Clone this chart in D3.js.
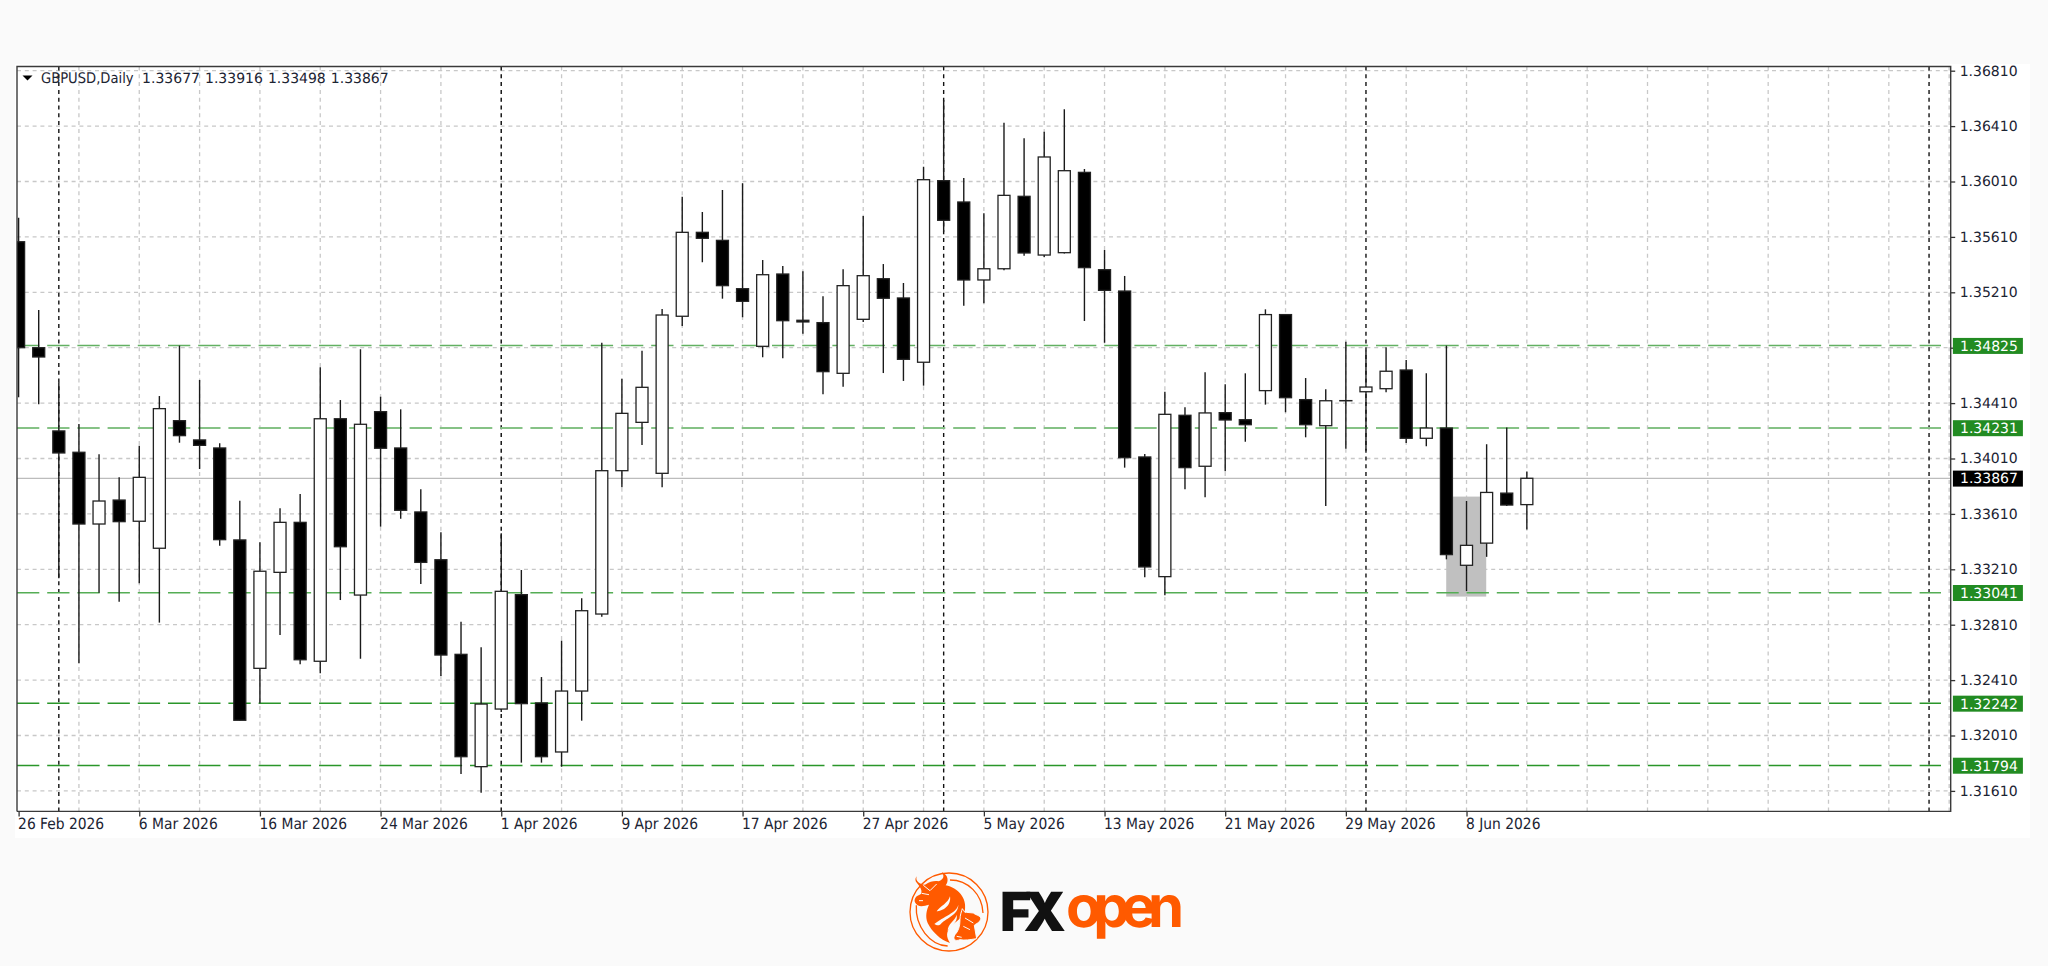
<!DOCTYPE html>
<html><head><meta charset="utf-8">
<script src="https://cdnjs.cloudflare.com/ajax/libs/d3/7.8.5/d3.min.js"></script>
<style>html,body{margin:0;padding:0;background:#fafafa;overflow:hidden}svg{display:block}
text{text-rendering:geometricPrecision}</style></head><body><svg id="c" width="2048" height="966"></svg>
<script>
const symbolName = "GBPUSD,Daily";
const legendValues = ["1.33677","1.33916","1.33498","1.33867"];
const opens = [1.35575,1.34810,1.34209,1.34055,1.33537,1.33710,1.33557,1.33362,1.34283,1.34144,1.34086,1.33422,1.32495,1.33188,1.33549,1.32546,1.34297,1.33024,1.34348,1.34086,1.33624,1.33279,1.32596,1.31785,1.32201,1.33027,1.32245,1.31891,1.32331,1.32887,1.33922,1.34271,1.33903,1.35037,1.35643,1.35585,1.35236,1.34820,1.35342,1.35008,1.34991,1.34625,1.35015,1.35308,1.35169,1.34705,1.36016,1.35862,1.35299,1.35380,1.35903,1.35479,1.35496,1.36076,1.35373,1.35219,1.34021,1.33157,1.34322,1.33954,1.34341,1.34290,1.34500,1.35049,1.34435,1.34247,1.34428,1.34492,1.34514,1.34649,1.34156,1.34230,1.33239,1.33399,1.33760,1.33677];
const highs = [1.35749,1.35082,1.34560,1.34259,1.34040,1.33874,1.34102,1.34461,1.34825,1.34577,1.34120,1.33705,1.33405,1.33650,1.33754,1.34668,1.34432,1.34798,1.34456,1.34365,1.33788,1.33477,1.32832,1.32647,1.33470,1.33205,1.32432,1.32695,1.33001,1.34846,1.34586,1.34788,1.35089,1.35900,1.35790,1.35949,1.35997,1.35443,1.35400,1.35362,1.35181,1.35376,1.35761,1.35414,1.35277,1.36117,1.36598,1.36035,1.35780,1.36435,1.36322,1.36370,1.36531,1.36100,1.35515,1.35328,1.34042,1.34492,1.34380,1.34632,1.34546,1.34625,1.35087,1.35053,1.34591,1.34510,1.34853,1.34788,1.34813,1.34721,1.34625,1.34825,1.33703,1.34113,1.34234,1.33916];
const lows = [1.34452,1.34401,1.33145,1.32531,1.33041,1.32976,1.33109,1.32825,1.34124,1.33934,1.33380,1.32118,1.32242,1.32736,1.32524,1.32459,1.32988,1.32564,1.33518,1.33575,1.33104,1.32440,1.31732,1.31597,1.32180,1.31814,1.31814,1.31785,1.32117,1.32868,1.33802,1.34107,1.33802,1.34967,1.35427,1.35164,1.35030,1.34741,1.34734,1.34911,1.34474,1.34528,1.34996,1.34627,1.34570,1.34536,1.35648,1.35113,1.35131,1.35369,1.35474,1.35465,1.35490,1.35003,1.34846,1.33944,1.33152,1.33022,1.33788,1.33730,1.33918,1.34131,1.34399,1.34344,1.34163,1.33667,1.34081,1.34066,1.34488,1.34122,1.34098,1.33282,1.33053,1.33300,1.33667,1.33498];
const closes = [1.34810,1.34743,1.34050,1.33537,1.33703,1.33554,1.33874,1.34370,1.34175,1.34105,1.33424,1.32120,1.33196,1.33549,1.32557,1.34297,1.33373,1.34257,1.34084,1.33636,1.33260,1.32591,1.31857,1.32237,1.33051,1.32240,1.31857,1.32331,1.32911,1.33922,1.34336,1.34524,1.35046,1.35643,1.35600,1.35258,1.35145,1.35337,1.35005,1.34996,1.34637,1.35258,1.35330,1.35167,1.34726,1.36023,1.35730,1.35299,1.35380,1.35910,1.35494,1.36187,1.36088,1.35388,1.35224,1.34016,1.33227,1.34329,1.33944,1.34339,1.34288,1.34254,1.35049,1.34449,1.34254,1.34427,1.34427,1.34526,1.34640,1.34156,1.34230,1.33316,1.33383,1.33765,1.33674,1.33867];
const priceTicks = [1.36810,1.36410,1.36010,1.35610,1.35210,1.34810,1.34410,1.34010,1.33610,1.33210,1.32810,1.32410,1.32010,1.31610];
const dateLabels = ["26 Feb 2026","6 Mar 2026","16 Mar 2026","24 Mar 2026","1 Apr 2026","9 Apr 2026","17 Apr 2026","27 Apr 2026","5 May 2026","13 May 2026","21 May 2026","29 May 2026","8 Jun 2026"];
const levels = [1.34825,1.34231,1.33041,1.32242,1.31794];
const levelStrokes = ["#62b062","#86c286","#55ad55","#2a962a","#2a962a"];
const currentPrice = 1.33867;
const monthStartBars = [2,24,46,67,95];
const zoneBars = [70.99,72.98];
const zonePrices = [1.33735,1.33013];
const gridBarStep = 3, labelBarStep = 6, totalBars = 97;

const L=17,R=1950.7,T=66.5,B=811.4;
const x = d3.scaleLinear().domain([0,100]).range([18.6,18.6+2011]);
const y = d3.scaleLinear().domain([1.36810,1.31610]).range([70.7,790.9]);
const svg = d3.select("#c");
const fmt = d3.format(".5f");
svg.append("rect").attr("width",2048).attr("height",966).attr("fill","#fafafa");
svg.append("rect").attr("x",15).attr("y",64).attr("width",2015).attr("height",774).attr("fill","#fff");
svg.append("clipPath").attr("id","plot").append("rect").attr("x",L).attr("y",T).attr("width",R-L).attr("height",B-T);
const plot = svg.append("g").attr("clip-path","url(#plot)");

const gridBars = d3.range(gridBarStep,totalBars,gridBarStep);
plot.selectAll(".vg").data(gridBars).join("line").attr("x1",d=>x(d)).attr("x2",d=>x(d)).attr("y1",T).attr("y2",B)
  .attr("stroke","#c8c8c8").attr("stroke-width",1.3).attr("stroke-dasharray","4 3.8");
plot.selectAll(".hg").data(priceTicks).join("line").attr("x1",L).attr("x2",R).attr("y1",d=>y(d)).attr("y2",d=>y(d))
  .attr("stroke","#c8c8c8").attr("stroke-width",1.3).attr("stroke-dasharray","4 3.8");
plot.append("rect").attr("x",x(zoneBars[0])).attr("width",x(zoneBars[1])-x(zoneBars[0]))
  .attr("y",y(zonePrices[0])).attr("height",y(zonePrices[1])-y(zonePrices[0])).attr("fill","#c0c0c0");
plot.append("line").attr("x1",L).attr("x2",R).attr("y1",y(currentPrice)).attr("y2",y(currentPrice)).attr("stroke","#bcbcbc").attr("stroke-width",1.2);
plot.selectAll(".ms").data(monthStartBars).join("line").attr("x1",d=>x(d)).attr("x2",d=>x(d)).attr("y1",T).attr("y2",B)
  .attr("stroke","#111").attr("stroke-width",1.4).attr("stroke-dasharray","4 3.8");
plot.selectAll(".lv").data(levels).join("line").attr("x1",L).attr("x2",1941).attr("y1",d=>y(d)).attr("y2",d=>y(d))
  .attr("stroke",(d,i)=>levelStrokes[i]).attr("stroke-width",(d,i)=>i==1?2:1.5).attr("stroke-dasharray","22.3 7.9");

const bars = plot.selectAll(".bar").data(opens.map((o,i)=>i)).join("g");
bars.append("line").attr("x1",x).attr("x2",x).attr("y1",i=>y(highs[i])).attr("y2",i=>y(lows[i])).attr("stroke","#1a1a1a").attr("stroke-width",1.4);
bars.append("rect").attr("x",i=>x(i)-6).attr("width",12)
  .attr("y",i=>y(Math.max(opens[i],closes[i]))).attr("height",i=>Math.max(0.2,Math.abs(y(opens[i])-y(closes[i]))))
  .attr("fill",i=>closes[i]>opens[i]?"#fff":"#000").attr("stroke","#222").attr("stroke-width",1.3);

const axisR = d3.axisRight(y).tickValues(priceTicks).tickFormat(fmt).tickSize(4.5).tickPadding(4.5);
const gr = svg.append("g").attr("transform",`translate(${R},0)`).call(axisR);
gr.select(".domain").remove();
gr.selectAll("line").attr("stroke","#333").attr("stroke-width",1.3);
gr.selectAll("text").attr("font-family","'DejaVu Sans'").attr("font-size",14).attr("fill","#1c2433");

const labelBars = dateLabels.map((d,i)=>i*labelBarStep);
const axisB = d3.axisBottom(x).tickValues(labelBars).tickFormat((d,i)=>dateLabels[i]).tickSize(5);
const gb = svg.append("g").attr("transform",`translate(0,${B})`).call(axisB);
gb.select(".domain").remove();
gb.selectAll("line").attr("stroke","#333").attr("stroke-width",1.3);
gb.selectAll("text").attr("text-anchor","start").attr("x",-1).attr("y",7).attr("font-family","'DejaVu Sans Condensed','DejaVu Sans'").attr("font-stretch","condensed").attr("font-size",15.4).attr("fill","#1c2433");

svg.append("path").attr("d",`M${L},${B}V${T}H${R}V${B}H${L}`).attr("fill","none").attr("stroke","#3a3a3a").attr("stroke-width",1.4);

const boxX=R+2.2, boxW=70, boxH=16;
const tags = levels.map((v,i)=>({v,c:"#228b22"})).concat([{v:currentPrice,c:"#000"}]);
const tg = svg.selectAll(".tag").data(tags).join("g");
tg.append("rect").attr("x",boxX).attr("y",d=>y(d.v)-boxH/2+0.3).attr("width",boxW).attr("height",boxH).attr("fill",d=>d.c);
tg.append("text").attr("x",R+9.3).attr("y",d=>y(d.v)).attr("dy","0.37em").text(d=>fmt(d.v)).attr("font-family","'DejaVu Sans'").attr("font-size",14).attr("fill","#fff");

const leg = svg.append("g");
leg.append("path").attr("d","M22.5,75.5H32.5L27.5,80.5Z").attr("fill","#000");
const lt = leg.append("text").attr("x",41).attr("y",78).attr("dy","0.37em").attr("fill","#1c2433").attr("font-family","'DejaVu Sans'").attr("font-size",14);
lt.append("tspan").attr("font-family","'DejaVu Sans Condensed','DejaVu Sans'").attr("font-stretch","condensed").attr("font-size",14.6).text(symbolName);
legendValues.forEach(v=>lt.append("tspan").attr("dx",v===legendValues[0]?8.5:5).text(v));

// FXopen wordmark and emblem
const logo = svg.append("g");
const OR="#ff5a00", BG="#fafafa";
const em = logo.append("g").attr("transform","translate(905,868) scale(0.3333)");
em.append("circle").attr("cx",132).attr("cy",132).attr("r",117).attr("fill","none").attr("stroke",OR).attr("stroke-width",4);
em.append("path").attr("d","M135,36 C190,36 232,80 234,135").attr("fill","none").attr("stroke",OR).attr("stroke-width",4);
em.append("path").attr("d","M34,112 C30,175 75,232 128,234").attr("fill","none").attr("stroke",OR).attr("stroke-width",4);
em.append("path").attr("d","M35,25 C30,40 45,50 60,50 C75,40 90,38 100,40 C115,35 120,25 110,12 C130,20 132,40 122,52 C160,60 185,90 180,125 C176,150 150,160 135,178 C125,192 122,205 135,225 C105,215 80,190 68,165 C60,145 65,125 72,110 C60,112 50,118 38,112 C28,105 25,95 35,85 L48,78 C52,70 48,60 40,50 C32,42 28,35 35,25 Z").attr("fill",OR);
em.append("path").attr("d","M135,85 C130,105 105,115 95,130 C110,130 140,115 135,85 Z M160,110 C155,135 115,145 88,168 C98,175 105,172 110,165 C125,150 160,140 160,110 Z M155,140 C150,160 128,165 128,190 C135,175 160,165 155,140 Z").attr("fill",BG);
em.append("path").attr("d","M55,52 L75,68 L95,48 M50,76 L72,80 M42,98 L54,98").attr("fill","none").attr("stroke",BG).attr("stroke-width",3);
em.append("path").attr("d","M172,122 C178,130 178,135 185,133 L205,135 C212,142 222,140 228,150 C225,165 215,165 208,172 L215,212 C195,215 180,218 165,215 C150,222 142,212 150,200 C160,190 165,175 165,155 C165,140 170,130 172,122 Z").attr("fill",OR).attr("stroke",BG).attr("stroke-width",3);
em.append("path").attr("d","M180,150 L205,165 M175,175 L195,185 M155,205 L170,208").attr("fill","none").attr("stroke",BG).attr("stroke-width",3);
logo.append("text").text("FX").attr("x",1000).attr("y",930.7).attr("font-family","Inter").attr("font-weight",900).attr("font-size",54)
  .attr("textLength",66).attr("fill","#111");
logo.append("text").text("open").attr("x",1066).attr("y",927).attr("font-family","Inter").attr("font-weight",700).attr("font-size",58)
  .attr("textLength",118).attr("fill",OR);
</script></body></html>
